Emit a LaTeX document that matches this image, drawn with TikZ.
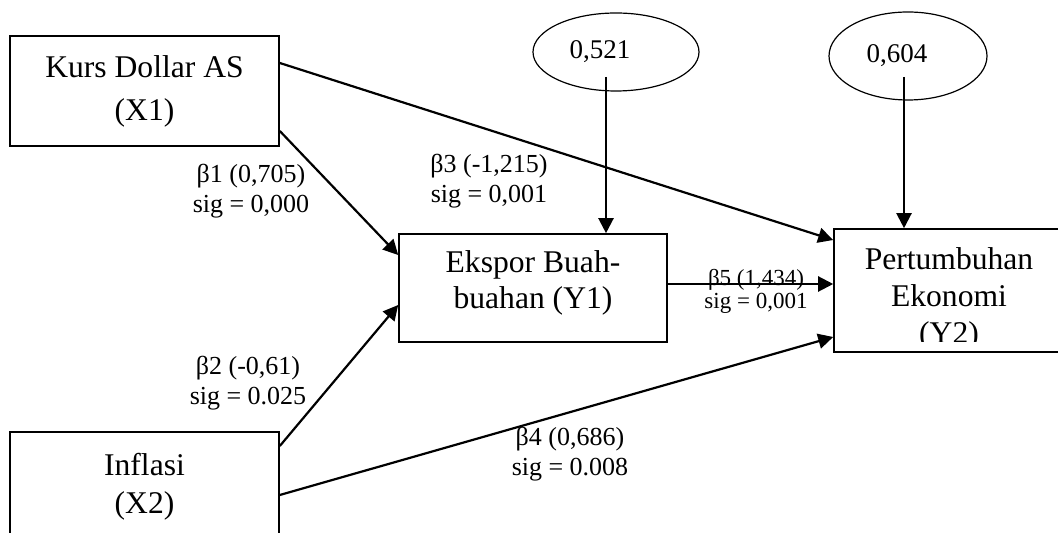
\documentclass[tikz,border=0pt]{standalone}
\usepackage{fontspec}
\setmainfont{Liberation Serif}
\usetikzlibrary{shapes.geometric,arrows.meta}
\tikzset{
  box/.style={draw, line width=0.8pt, rectangle, inner sep=0pt, align=center},
  boxtext/.style={font=\fontsize{15.8}{18}\selectfont},
  err/.style={draw, line width=0.6pt, ellipse, inner sep=0pt},
  errtext/.style={font=\fontsize{13.5}{15}\selectfont},
  lbl/.style={align=center, inner sep=0pt, font=\fontsize{13}{15}\selectfont},
  path/.style={line width=1.1pt, -{Triangle[length=7.5pt,width=7.5pt]}}
}
\begin{document}
\begin{tikzpicture}[x=0.5pt,y=-0.5pt]
\useasboundingbox (0,0) rectangle (1058,533);
\clip (0,0) rectangle (1058,533);

% boxes
\node[box, minimum width=134.5pt, minimum height=55pt, font=\fontsize{15.8}{21.5}\selectfont] (X1) at (144.5,91) {Kurs Dollar AS\\(X1)};
\node[box, minimum width=134.5pt, minimum height=55pt, font=\fontsize{15.8}{19}\selectfont] (X2) at (144.5,487) {Inflasi\\(X2)};
\node[box, minimum width=134pt, minimum height=54pt] (Y1) at (533,288) {};
\node[boxtext, align=center, inner sep=0pt] (Y1t) at (533,283) {Ekspor Buah-\\buahan (Y1)};
\node[box, minimum width=115pt, minimum height=61.5pt] (Y2) at (949,290.5) {};
\begin{scope}
  \clip (834,229) rectangle (1064,342);
  \node[align=center, inner sep=0pt, font=\fontsize{15.8}{18.5}\selectfont] (Y2t) at (949,299) {Pertumbuhan\\Ekonomi\\(Y2)};
\end{scope}

% error terms
\node[err, minimum width=83pt, minimum height=39pt] (E1) at (616,52) {};
\node[errtext, inner sep=0pt] (E1t) at (600,52) {0,521};
\node[err, minimum width=79pt, minimum height=44pt] (E2) at (908,56) {};
\node[errtext, inner sep=0pt] (E2t) at (897,56) {0,604};
\coordinate (e1s) at (606,77);
\coordinate (e2s) at (904,77);

% arrows
\draw[path] (e1s) -- (e1s |- Y1.north);
\draw[path] (e2s) -- (e2s |- Y2.north);
\draw[path] (X1.east |- 0,131) -- (Y1.west |- 0,255);
\draw[path] (X1.east |- 0,63) -- (Y2.west |- 0,240);
\draw[path] (X2.east |- 0,446) -- (Y1.west |- 0,305);
\draw[path] (X2.east |- 0,495) -- (Y2.west |- 0,337);
\draw[path] (Y1.east |- 0,284) -- (Y2.west |- 0,284);

% labels
\node[lbl] (L1) at (251,191) {β1 (0,705)\\sig = 0,000};
\node[lbl] (L2) at (248,383) {β2 (-0,61)\\sig = 0.025};
\node[lbl] (L3) at (489,181) {β3 (-1,215)\\sig = 0,001};
\node[lbl] (L4) at (570,454) {β4 (0,686)\\sig = 0.008};
\node[lbl, font=\fontsize{11.5}{11.5}\selectfont] (L5) at (756,291) {β5 (1,434)\\sig = 0,001};
\end{tikzpicture}
\end{document}
